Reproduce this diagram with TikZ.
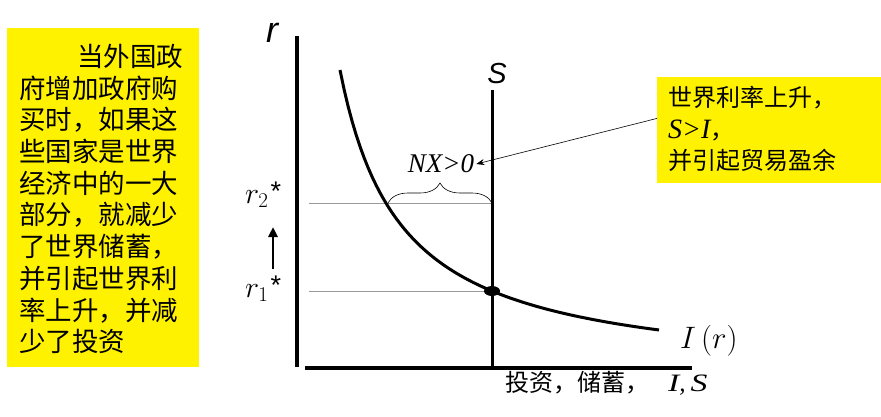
\documentclass[tikz,border=0pt]{standalone}
\usepackage{fix-cm}
\usepackage{amsmath}
\usepackage[no-math]{fontspec}
\setmainfont{Liberation Serif}
\setsansfont{Liberation Sans}
\newfontfamily\cjk{Noto Sans CJK SC}
\usetikzlibrary{arrows.meta,decorations.pathreplacing}
\newcommand{\rstar}[1]{$r_{#1}$\kern2pt\raisebox{3pt}{\sffamily\fontsize{27}{27}\selectfont *}}
\begin{document}
\begin{tikzpicture}[x=1pt, y=-1pt, declare function={inv(\t)=379.7-188.91/((\t-279)/100);}, line join=round]
	\useasboundingbox (0,0) rectangle (881,416);
	
	% yellow notes
	\fill[yellow] (7,28) rectangle (199,367);
	\node[anchor=north west, inner sep=0, align=left, font=\cjk\fontsize{26.5}{31.7}\selectfont] (note) at (19,44)
		{\hspace*{58pt}当外国政\\府增加政府购\\买时，如果这\\些国家是世界\\经济中的一大\\部分，就减少\\了世界储蓄，\\并引起世界利\\率上升，并减\\少了投资};
	\node[fill=yellow, minimum width=224pt, minimum height=106pt, inner sep=0, anchor=north west] (rise) at (657,77) {};
	\node[anchor=north west, inner sep=0, align=left, font=\cjk\fontsize{24}{31.5}\selectfont] (risetext) at (668,86)
		{世界利率上升，\\{\rmfamily\itshape\fontsize{28}{28}\selectfont S>I}，\\并引起贸易盈余};
	
	% axes
	\draw[line width=4pt] (297,36) -- (297,367);
	\draw[line width=4pt] (305,368) -- (692,368);
	\node[anchor=base, font=\sffamily\itshape\fontsize{36}{36}\selectfont] (r) at (272,42) {r};
	\node[anchor=base west, inner sep=0, font=\cjk\fontsize{24}{24}\selectfont] (xlab) at (505,391)
		{投资，储蓄，\hspace{19pt}{\rmfamily\itshape\fontsize{25}{25}\selectfont\scalebox{1.35}[1]{I},\hspace{5pt}\scalebox{1.35}[1]{S}}};
	
	% interest rates
	\draw[gray!80, line width=0.5pt] (309,203) -- (492,203);
	\draw[gray!80, line width=0.5pt] (309,291) -- (492,291);
	\node[anchor=base west, inner sep=0, font=\fontsize{30}{30}\selectfont] (r2) at (245,203) {\rstar{2}};
	\node[anchor=base west, inner sep=0, font=\fontsize{30}{30}\selectfont] (r1) at (245,297) {\rstar{1}};
	\coordinate (lo) at (273,269);
	\coordinate (hi) at (273,227);
	\draw[line width=2.5pt, -{Triangle[length=10pt, width=9pt]}] (lo) -- (hi);
	
	% saving and investment
	\draw[line width=3pt] (492,90) -- (492,368);
	\node[anchor=base, font=\sffamily\itshape\fontsize{29}{29}\selectfont] (S) at (497,83) {S};
	\draw[line width=3pt] plot[domain=340:659, samples=80] (\x,{inv(\x)});
	\fill (492,291) ellipse (8 and 5);
	\node[anchor=base west, inner sep=0, font=\fontsize{31}{31}\selectfont] (Ir) at (680,348) {$I\,(r)$};
	
	% net exports
	\coordinate (bl) at (388,203);
	\coordinate (br) at (492,203);
	\draw[line width=0.6pt, decorate, decoration={brace, amplitude=20pt}] (bl) -- (br);
	\node[inner sep=2pt, font=\itshape\fontsize{27}{27}\selectfont] (nx) at (441,164) {NX>0};
	\draw[line width=0.6pt, -{Stealth[length=8pt, width=6pt]}] (rise.174) -- (nx.east);
\end{tikzpicture}
\end{document}
